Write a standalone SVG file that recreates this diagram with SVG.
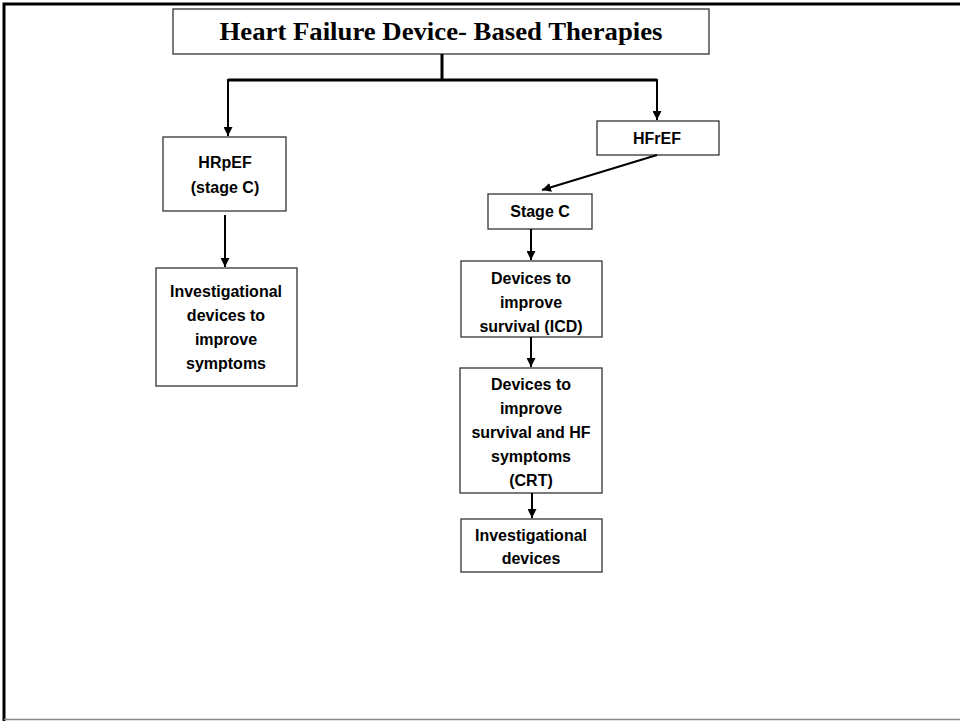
<svg xmlns="http://www.w3.org/2000/svg" width="960" height="721" viewBox="0 0 960 721">
<defs>
<marker id="ah" viewBox="0 0 10 10" refX="10" refY="5" markerWidth="4.5" markerHeight="4.5" orient="auto" markerUnits="strokeWidth">
<path d="M0,0 L10,5 L0,10 z" fill="#000"/>
</marker>
</defs>
<style>
.box{fill:#fff;stroke:#333;stroke-width:1.3}
.t{font-family:"Liberation Sans",Arial,sans-serif;font-weight:bold;font-size:16px;fill:#000;text-anchor:middle}
.title{font-family:"Liberation Serif","Times New Roman",serif;font-weight:bold;font-size:26px;fill:#000;text-anchor:middle}
.c{fill:none;stroke:#000;stroke-width:2}
.cb{fill:none;stroke:#000;stroke-width:3}
</style>
<rect width="960" height="721" fill="#fff"/>
<path d="M4,721 V4 H960" fill="none" stroke="#000" stroke-width="3"/>
<line x1="4" y1="719.5" x2="960" y2="719.5" stroke="#888" stroke-width="1.5"/>
<g id="title">
<rect class="box" x="173" y="9" width="536" height="45"/>
<text class="title" x="441" y="40" textLength="443" lengthAdjust="spacingAndGlyphs">Heart Failure Device- Based Therapies</text>
</g>
<g id="hrpef">
<rect class="box" x="163" y="137" width="123" height="74"/>
<text class="t" x="225" y="168">HRpEF</text>
<text class="t" x="225" y="193">(stage C)</text>
</g>
<g id="inv1">
<rect class="box" x="156" y="268" width="141" height="118"/>
<text class="t" x="226" y="297">Investigational</text>
<text class="t" x="226" y="321">devices to</text>
<text class="t" x="226" y="345">improve</text>
<text class="t" x="226" y="369">symptoms</text>
</g>
<g id="hfref">
<rect class="box" x="597" y="121" width="122" height="34"/>
<text class="t" x="657" y="144">HFrEF</text>
</g>
<g id="stagec">
<rect class="box" x="488" y="194" width="104" height="35"/>
<text class="t" x="540" y="217">Stage C</text>
</g>
<g id="icd">
<rect class="box" x="461" y="261" width="141" height="76"/>
<text class="t" x="531" y="284">Devices to</text>
<text class="t" x="531" y="308">improve</text>
<text class="t" x="531" y="332">survival (ICD)</text>
</g>
<g id="crt">
<rect class="box" x="460" y="368" width="142" height="125"/>
<text class="t" x="531" y="390">Devices to</text>
<text class="t" x="531" y="414">improve</text>
<text class="t" x="531" y="438">survival and HF</text>
<text class="t" x="531" y="462">symptoms</text>
<text class="t" x="531" y="486">(CRT)</text>
</g>
<g id="inv2">
<rect class="box" x="461" y="519" width="141" height="53"/>
<text class="t" x="531" y="541">Investigational</text>
<text class="t" x="531" y="564">devices</text>
</g>
<g id="connectors">
<path class="cb" d="M442,54 V80 M228,80 H657"/>
<path class="c" d="M228,79 V136" marker-end="url(#ah)"/>
<path class="c" d="M657,79 V120" marker-end="url(#ah)"/>
<path class="c" d="M225,215 V267" marker-end="url(#ah)"/>
<path class="c" d="M657,155 L542,190" marker-end="url(#ah)"/>
<path class="c" d="M531,229 V260" marker-end="url(#ah)"/>
<path class="c" d="M531,337 V367" marker-end="url(#ah)"/>
<path class="c" d="M532,493 V518" marker-end="url(#ah)"/>
</g>
</svg>
